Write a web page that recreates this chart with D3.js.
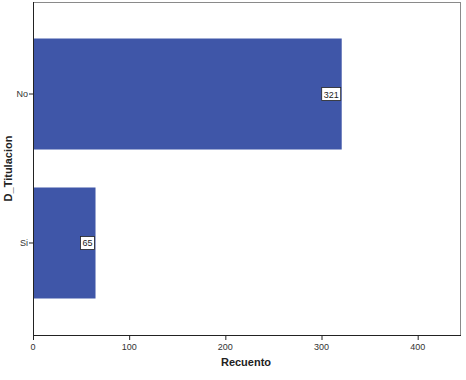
<!DOCTYPE html>
<html>
<head>
<meta charset="utf-8">
<script src="https://cdn.jsdelivr.net/npm/d3@7"></script>
<style>
  body { margin: 0; background: #fff; }
  text { font-family: Arial, "Liberation Sans", sans-serif; }
</style>
</head>
<body>
<svg id="chart" width="466" height="380"></svg>
<script>
// data
var categories = ["No", "Si"];
var counts = [321, 65];
var xTicks = [0, 100, 200, 300, 400];

var svg = d3.select("#chart");
// plot box (note: "top" clashes with window.top, so use other names)
var plotL = 33, plotR = 460, plotT = 2, plotB = 335;

var x = d3.scaleLinear().domain([0, 444]).range([plotL, plotR]);
var y = d3.scaleBand().domain(categories).range([plotT, plotB])
  .paddingInner(0.255).paddingOuter(0.245);

// frame
svg.append("rect")
  .attr("x", plotL + 0.5).attr("y", plotT + 0.5)
  .attr("width", plotR - plotL).attr("height", plotB - plotT)
  .attr("fill", "none").attr("stroke", "#8a8a8a").attr("stroke-width", 1);

// bars
svg.selectAll("rect.bar")
  .data(categories)
  .enter().append("rect")
  .attr("class", "bar")
  .attr("x", x(0))
  .attr("y", function(d) { return y(d); })
  .attr("width", function(d, i) { return x(counts[i]) - x(0); })
  .attr("height", y.bandwidth())
  .attr("fill", "#3f56a8");

// axis lines
svg.append("line").attr("x1", plotL + 0.5).attr("x2", plotL + 0.5).attr("y1", plotT).attr("y2", plotB)
  .attr("stroke", "#222");
svg.append("line").attr("x1", plotL).attr("x2", plotR + 1).attr("y1", plotB + 0.5).attr("y2", plotB + 0.5)
  .attr("stroke", "#222");

// x ticks
var xt = svg.selectAll("g.xt").data(xTicks).enter().append("g").attr("class", "xt");
xt.append("line")
  .attr("x1", function(d) { return x(d) + 0.5; }).attr("x2", function(d) { return x(d) + 0.5; })
  .attr("y1", plotB).attr("y2", plotB + 5).attr("stroke", "#222");
xt.append("text")
  .attr("x", function(d) { return x(d); })
  .attr("y", plotB + 15)
  .attr("text-anchor", "middle")
  .attr("font-size", 9).attr("fill", "#333")
  .text(function(d) { return d; });

// y ticks
var yt = svg.selectAll("g.yt").data(categories).enter().append("g").attr("class", "yt");
yt.append("line")
  .attr("x1", plotL - 4).attr("x2", plotL)
  .attr("y1", function(d) { return y(d) + y.bandwidth() / 2; })
  .attr("y2", function(d) { return y(d) + y.bandwidth() / 2; })
  .attr("stroke", "#222");
yt.append("text")
  .attr("x", plotL - 5)
  .attr("y", function(d) { return y(d) + y.bandwidth() / 2 + 3; })
  .attr("text-anchor", "end")
  .attr("font-size", 9).attr("fill", "#333")
  .text(function(d) { return d; });

// value labels
function boxW(v) { return String(v).length * 5 + 4; }
var lab = svg.selectAll("g.lab").data(categories).enter().append("g").attr("class", "lab");
lab.append("rect")
  .attr("x", function(d, i) { return x(counts[i]) - boxW(counts[i]) - 1; })
  .attr("y", function(d) { return y(d) + y.bandwidth() / 2 - 6.5; })
  .attr("width", function(d, i) { return boxW(counts[i]); })
  .attr("height", 13)
  .attr("fill", "#fff").attr("stroke", "#222").attr("stroke-width", 0.8);
lab.append("text")
  .attr("x", function(d, i) { return x(counts[i]) - boxW(counts[i]) / 2 - 1; })
  .attr("y", function(d) { return y(d) + y.bandwidth() / 2 + 3.5; })
  .attr("text-anchor", "middle")
  .attr("font-size", 9).attr("fill", "#222")
  .text(function(d, i) { return counts[i]; });

// axis titles
svg.append("text")
  .attr("x", 246).attr("y", 366)
  .attr("text-anchor", "middle")
  .attr("font-size", 11).attr("font-weight", "bold").attr("fill", "#222")
  .text("Recuento");
svg.append("text")
  .attr("transform", "translate(12," + ((plotT + plotB) / 2) + ") rotate(-90)")
  .attr("text-anchor", "middle")
  .attr("font-size", 11).attr("font-weight", "bold").attr("fill", "#222")
  .text("D_Titulacion");
</script>
</body>
</html>
